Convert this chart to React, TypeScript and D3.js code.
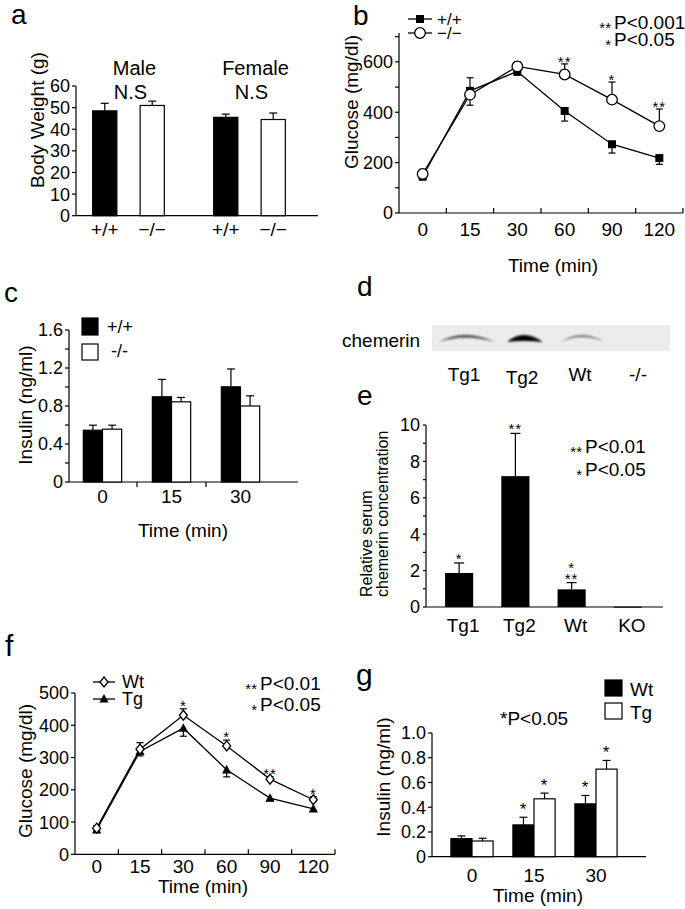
import React from 'react';
import * as d3 from 'd3';

const FONT = "'Liberation Sans', Arial, Helvetica, sans-serif";

// ---------- Panel a: body weight ----------
const aGroups = ['Male', 'Female'];
const aGenotypes = ['+/+', '−/−'];
const aWeightMean = [[48.5, 51.0], [45.5, 44.5]];
const aWeightErr = [[3.5, 2.0], [1.5, 3.0]];
const aGroupNote = ['N.S', 'N.S'];
const aYTicks = [0, 10, 20, 30, 40, 50, 60];

// ---------- Panel b: glucose tolerance (KO) ----------
const bTimes = ['0', '15', '30', '60', '90', '120'];
const bWtMean = [145, 485, 562, 405, 273, 218];
const bWtErr = [-14, 52, -15, -40, -35, -25];
const bKoMean = [155, 470, 582, 550, 450, 345];
const bKoErr = [18, -42, 18, 42, 70, 68];
const bStars = ['', '', '', '**', '*', '**'];
const bYTicks = [0, 100, 200, 300, 400, 500, 600, 700];
const bYLabels = [0, 200, 400, 600];

// ---------- Panel c: insulin (KO) ----------
const cTimes = ['0', '15', '30'];
const cSeries = ['+/+', '-/-'];
const cWtMean = [0.545, 0.897, 1.002];
const cWtErr = [0.053, 0.183, 0.188];
const cKoMean = [0.556, 0.844, 0.80];
const cKoErr = [0.042, 0.046, 0.107];
const cYTicks = [0, 0.2, 0.4, 0.6, 0.8, 1.0, 1.2, 1.4, 1.6];
const cYLabels = [0, 0.4, 0.8, 1.2, 1.6];

// ---------- Panel d: western blot ----------
const dLanes = ['Tg1', 'Tg2', 'Wt', '-/-'];
const dBandIntensity = [0.75, 1.0, 0.55, 0];
const dBandSpread = [56, 36, 44, 0];
const dBandThickness = [2.5, 6, 2, 0];

// ---------- Panel e: serum chemerin ----------
const eGroups = ['Tg1', 'Tg2', 'Wt', 'KO'];
const eMean = [1.87, 7.19, 0.97, 0.02];
const eErr = [0.55, 2.35, 0.37, 0];
const eStars = [['*'], ['**'], ['*', '**'], []];
const eYTicks = [0, 1, 2, 3, 4, 5, 6, 7, 8, 9, 10];
const eYLabels = [0, 2, 4, 6, 8, 10];

// ---------- Panel f: glucose tolerance (Tg) ----------
const fTimes = ['0', '15', '30', '60', '90', '120'];
const fWtMean = [81, 326, 431, 336, 233, 169];
const fWtErr = [8, 20, 20, 18, 8, 10];
const fTgMean = [76, 319, 391, 262, 174, 141];
const fTgErr = [-8, -14, -25, -22, -8, -8];
const fStars = ['', '', '*', '*', '**', '*'];
const fYTicks = [0, 100, 200, 300, 400, 500];

// ---------- Panel g: insulin (Tg) ----------
const gTimes = ['0', '15', '30'];
const gSeries = ['Wt', 'Tg'];
const gWtMean = [0.146, 0.257, 0.427];
const gWtErr = [0.022, 0.062, 0.068];
const gTgMean = [0.127, 0.468, 0.708];
const gTgErr = [0.022, 0.046, 0.07];
const gWtStars = ['', '*', '*'];
const gTgStars = ['', '*', '*'];
const gYTicks = [0, 0.2, 0.4, 0.6, 0.8, 1.0];

const SW = 1.2;

function T(props: any) {
  const { x, y, size = 18, anchor = 'start', children, rotate, ...rest } = props;
  return (
    <text
      x={rotate ? 0 : x}
      y={rotate ? 0 : y}
      transform={rotate ? `translate(${x},${y}) rotate(${rotate})` : undefined}
      fontFamily={FONT}
      fontSize={size}
      textAnchor={anchor}
      fill="#000"
      {...rest}
    >
      {children}
    </text>
  );
}

function YAxis({ scale, x, ticks, labels, fmt, top, size = 18, len = 4, dir = -1 }: any) {
  const [y0, y1] = scale.range();
  return (
    <g>
      <line x1={x} x2={x} y1={top ?? y1} y2={y0} stroke="#000" strokeWidth={SW} />
      {ticks.map((t: number) => (
        <line key={t} x1={x} x2={x + dir * len} y1={scale(t)} y2={scale(t)} stroke="#000" strokeWidth={SW} />
      ))}
      {labels.map((t: number) => (
        <T key={'l' + t} x={x - 6} y={scale(t)} dy="0.36em" anchor="end" size={size}>
          {fmt ? fmt(t) : String(t)}
        </T>
      ))}
    </g>
  );
}

function ErrBar({ x, y1, y2, cap = 4 }: any) {
  return (
    <g stroke="#000" strokeWidth={SW}>
      <line x1={x} x2={x} y1={y1} y2={y2} />
      <line x1={x - cap} x2={x + cap} y1={y2} y2={y2} />
    </g>
  );
}

function Stars({ x, y, text, size = 15 }: any) {
  return (
    <T x={x} y={y} size={size} anchor="middle" letterSpacing={1}>
      {text}
    </T>
  );
}

// ---------------- Panel a ----------------
function PanelA() {
  const y = d3.scaleLinear().domain([0, 60]).range([215.7, 86]);
  const xg = d3.scaleBand().domain(aGroups).range([68, 310]);
  const xi = d3.scaleBand().domain(aGenotypes).range([0, xg.bandwidth()]).paddingInner(0.49).paddingOuter(0.52);
  return (
    <g>
      <T x={11} y={24} size={28}>a</T>
      <T x={44} y={120} size={19} anchor="middle" rotate={-90}>Body Weight (g)</T>
      <YAxis scale={y} x={76} ticks={aYTicks} labels={aYTicks} />
      <line x1={76} x2={318} y1={y(0)} y2={y(0)} stroke="#000" strokeWidth={SW} />
      {aGroups.map((g, gi) => {
        const gx = xg(g)!;
        const cx = gx + xg.bandwidth() / 2;
        return (
          <g key={g}>
            <T x={cx + 6} y={75} size={20} anchor="middle">{g}</T>
            <T x={cx + 2} y={99} size={20} anchor="middle">{aGroupNote[gi]}</T>
            {aGenotypes.map((gt, k) => {
              const bx = gx + xi(gt)!;
              const v = aWeightMean[gi][k];
              const e = aWeightErr[gi][k];
              const bc = bx + xi.bandwidth() / 2;
              return (
                <g key={gt}>
                  <ErrBar x={bc} y1={y(v)} y2={y(v + e)} />
                  <rect x={bx} y={y(v)} width={xi.bandwidth()} height={y(0) - y(v)}
                    fill={k === 0 ? '#000' : '#fff'} stroke="#000" strokeWidth={SW} />
                  <T x={bc} y={236} size={19} anchor="middle">{gt}</T>
                </g>
              );
            })}
          </g>
        );
      })}
    </g>
  );
}

// markers
const Square = ({ x, y }: any) => <rect x={x - 4} y={y - 4} width={8} height={8} fill="#000" />;
const Circle = ({ x, y }: any) => <circle cx={x} cy={y} r={5.3} fill="#fff" stroke="#000" strokeWidth={1.3} />;
const Diamond = ({ x, y }: any) => (
  <path d={`M${x},${y - 5}L${x + 4},${y}L${x},${y + 5}L${x - 4},${y}Z`} fill="#fff" stroke="#000" strokeWidth={1.3} />
);
const Triangle = ({ x, y }: any) => (
  <path d={`M${x},${y - 5}L${x + 4.6},${y + 3.6}L${x - 4.6},${y + 3.6}Z`} fill="#000" />
);

// ---------------- Panel b ----------------
function PanelB() {
  const y = d3.scaleLinear().domain([0, 700]).range([213, 36.7]);
  const x = d3.scaleBand().domain(bTimes).range([399, 683]);
  const cx = (t: string) => x(t)! + x.bandwidth() / 2;
  const line = d3.line<number>().x((_, i) => cx(bTimes[i])).y((d) => y(d));
  return (
    <g>
      <T x={353} y={25} size={28}>b</T>
      <T x={358} y={102} size={19} anchor="middle" rotate={-90}>Glucose (mg/dl)</T>
      <YAxis scale={y} x={399} ticks={bYTicks} labels={bYLabels} top={33} />
      <line x1={399} x2={683} y1={y(0)} y2={y(0)} stroke="#000" strokeWidth={SW} />
      {bTimes.map((t) => (
        <g key={t}>
          <line x1={x(t)! + x.bandwidth()} x2={x(t)! + x.bandwidth()} y1={y(0)} y2={y(0) - 5} stroke="#000" strokeWidth={SW} />
          <T x={cx(t)} y={236} size={19} anchor="middle">{t}</T>
        </g>
      ))}
      <T x={553} y={272} size={19} anchor="middle">Time (min)</T>
      {bTimes.map((t, i) => (
        <g key={'e' + t}>
          <ErrBar x={cx(t)} y1={y(bWtMean[i])} y2={y(bWtMean[i] + bWtErr[i])} cap={3.5} />
          <ErrBar x={cx(t)} y1={y(bKoMean[i])} y2={y(bKoMean[i] + bKoErr[i])} cap={3.5} />
        </g>
      ))}
      <path d={line(bWtMean)!} fill="none" stroke="#000" strokeWidth={1.3} />
      <path d={line(bKoMean)!} fill="none" stroke="#000" strokeWidth={1.3} />
      {bTimes.map((t, i) => <Square key={'s' + t} x={cx(t)} y={y(bWtMean[i])} />)}
      {bTimes.map((t, i) => <Circle key={'c' + t} x={cx(t)} y={y(bKoMean[i])} />)}
      {bTimes.map((t, i) =>
        bStars[i] ? (
          <Stars key={'st' + t} x={cx(t)} y={y(bKoMean[i] + Math.abs(bKoErr[i])) + 3} text={bStars[i]} />
        ) : null
      )}
      {/* legend */}
      <line x1={408} x2={432} y1={19} y2={19} stroke="#000" strokeWidth={1.3} />
      <Square x={420} y={19} />
      <T x={437} y={25} size={17}>+/+</T>
      <line x1={408} x2={432} y1={33} y2={33} stroke="#000" strokeWidth={1.3} />
      <Circle x={420} y={33} />
      <T x={437} y={39} size={17}>−/−</T>
      <T x={611} y={33} size={15} anchor="end">**</T>
      <T x={614} y={29} size={19}>P&lt;0.001</T>
      <T x={611} y={50} size={15} anchor="end">*</T>
      <T x={614} y={46} size={19}>P&lt;0.05</T>
    </g>
  );
}

// ---------------- Panel c ----------------
function PanelC() {
  const y = d3.scaleLinear().domain([0, 1.6]).range([482, 330]);
  const x = d3.scaleBand().domain(cTimes).range([68, 275]);
  const xi = d3.scaleBand().domain(cSeries).range([0, x.bandwidth()]).paddingOuter(0.8).paddingInner(0);
  const fmt = (v: number) => (v === 0 ? '0' : v.toFixed(1));
  const means = [cWtMean, cKoMean];
  const errs = [cWtErr, cKoErr];
  return (
    <g>
      <T x={4} y={302} size={28}>c</T>
      <T x={32} y={405} size={19} anchor="middle" rotate={-90}>Insulin (ng/ml)</T>
      <YAxis scale={y} x={69} ticks={cYTicks} labels={cYLabels} fmt={fmt} />
      <line x1={69} x2={298} y1={y(0)} y2={y(0)} stroke="#000" strokeWidth={SW} />
      {cTimes.map((t, i) => (
        <g key={t}>
          {i > 0 && <line x1={x(t)!} x2={x(t)!} y1={y(0)} y2={y(0) + 5} stroke="#000" strokeWidth={SW} />}
          <T x={x(t)! + x.bandwidth() / 2} y={503} size={19} anchor="middle">{t}</T>
          {cSeries.map((s, k) => {
            const bx = x(t)! + xi(s)!;
            const v = means[k][i];
            return (
              <g key={s}>
                <ErrBar x={bx + xi.bandwidth() / 2} y1={y(v)} y2={y(v + errs[k][i])} cap={4} />
                <rect x={bx} y={y(v)} width={xi.bandwidth()} height={y(0) - y(v)}
                  fill={k === 0 ? '#000' : '#fff'} stroke="#000" strokeWidth={SW} />
              </g>
            );
          })}
        </g>
      ))}
      <T x={183} y={537} size={19} anchor="middle">Time (min)</T>
      <rect x={82} y={318} width={16} height={17} fill="#000" stroke="#000" strokeWidth={SW} />
      <T x={107} y={333} size={18}>{cSeries[0]}</T>
      <rect x={82} y={344} width={16} height={16} fill="#fff" stroke="#000" strokeWidth={SW} />
      <T x={111} y={357} size={18}>{cSeries[1]}</T>
    </g>
  );
}

// ---------------- Panel d ----------------
function PanelD() {
  const x = d3.scaleBand().domain(dLanes).range([438, 670]);
  const cy = 338;
  return (
    <g>
      <defs>
        <filter id="blotBlur" x="-20%" y="-50%" width="140%" height="200%">
          <feGaussianBlur stdDeviation="1.3" />
        </filter>
      </defs>
      <T x={357} y={296} size={28}>d</T>
      <T x={342} y={347} size={19}>chemerin</T>
      <rect x={432} y={325} width={238} height={26} fill="#ececec" />
      {dLanes.map((l, i) => {
        const c = x(l)! + x.bandwidth() / 2;
        const w = dBandSpread[i];
        const t = dBandThickness[i];
        const d = `M${c - w / 2},${cy + 4} Q${c - w * 0.05},${cy - 10} ${c + w / 2},${cy + 4} Q${c - w * 0.05},${cy - 10 + 2 * t} ${c - w / 2},${cy + 4}Z`;
        return (
          <g key={l}>
            {w > 0 && <path d={d} fill="#000" opacity={dBandIntensity[i]} filter="url(#blotBlur)" />}
            <T x={c - 3} y={i === 1 ? 384 : 381} size={19} anchor="middle">{l}</T>
          </g>
        );
      })}
    </g>
  );
}

// ---------------- Panel e ----------------
function PanelE() {
  const y = d3.scaleLinear().domain([0, 10]).range([607, 425]);
  const x = d3.scaleBand().domain(eGroups).range([431, 656]).paddingInner(0.5).paddingOuter(0.25);
  return (
    <g>
      <T x={357} y={405} size={28}>e</T>
      <T x={372} y={597} size={16} rotate={-90}>Relative serum</T>
      <T x={388} y={597} size={16} rotate={-90}>chemerin concentration</T>
      <YAxis scale={y} x={426} ticks={eYTicks} labels={eYLabels} len={3} />
      <line x1={426} x2={663} y1={y(0)} y2={y(0)} stroke="#000" strokeWidth={SW} />
      {eGroups.map((g, i) => {
        const bx = x(g)!;
        const c = bx + x.bandwidth() / 2;
        const top = y(eMean[i] + eErr[i]);
        const n = eStars[i].length;
        return (
          <g key={g}>
            {eErr[i] > 0 && <ErrBar x={c} y1={y(eMean[i])} y2={top} cap={5} />}
            <rect x={bx} y={y(eMean[i])} width={x.bandwidth()} height={Math.max(1, y(0) - y(eMean[i]))} fill="#000" />
            {n > 0 && (
              <text x={c} y={top + 1 - (n - 1) * 11} fontFamily={FONT} fontSize={15} textAnchor="middle" letterSpacing={1}>
                {eStars[i].map((s, k) => (
                  <tspan key={k} x={c} dy={k === 0 ? 0 : 11}>{s}</tspan>
                ))}
              </text>
            )}
            <T x={c + 4} y={632} size={19} anchor="middle">{g}</T>
          </g>
        );
      })}
      <T x={582} y={457} size={15} anchor="end">**</T>
      <T x={585} y={453} size={19}>P&lt;0.01</T>
      <T x={582} y={480} size={15} anchor="end">*</T>
      <T x={585} y={476} size={19}>P&lt;0.05</T>
    </g>
  );
}

// ---------------- Panel f ----------------
function PanelF() {
  const y = d3.scaleLinear().domain([0, 500]).range([854.3, 693]);
  const x = d3.scaleBand().domain(fTimes).range([75, 335]);
  const cx = (t: string) => x(t)! + x.bandwidth() / 2;
  const line = d3.line<number>().x((_, i) => cx(fTimes[i])).y((d) => y(d));
  return (
    <g>
      <T x={5} y={656} size={30}>f</T>
      <T x={32} y={771} size={19} anchor="middle" rotate={-90}>Glucose (mg/dl)</T>
      <YAxis scale={y} x={75} ticks={fYTicks} labels={fYTicks} />
      <line x1={75} x2={335} y1={y(0)} y2={y(0)} stroke="#000" strokeWidth={SW} />
      {fTimes.map((t) => (
        <g key={t}>
          <line x1={x(t)! + x.bandwidth()} x2={x(t)! + x.bandwidth()} y1={y(0)} y2={y(0) - 5} stroke="#000" strokeWidth={SW} />
          <T x={cx(t)} y={873} size={19} anchor="middle">{t}</T>
        </g>
      ))}
      <T x={203} y={893} size={19} anchor="middle">Time (min)</T>
      {fTimes.map((t, i) => (
        <g key={'e' + t}>
          <ErrBar x={cx(t)} y1={y(fWtMean[i])} y2={y(fWtMean[i] + fWtErr[i])} cap={3.5} />
          <ErrBar x={cx(t)} y1={y(fTgMean[i])} y2={y(fTgMean[i] + fTgErr[i])} cap={3.5} />
        </g>
      ))}
      <path d={line(fWtMean)!} fill="none" stroke="#000" strokeWidth={1.3} />
      <path d={line(fTgMean)!} fill="none" stroke="#000" strokeWidth={1.3} />
      {fTimes.map((t, i) => <Triangle key={'t' + t} x={cx(t)} y={y(fTgMean[i])} />)}
      {fTimes.map((t, i) => <Diamond key={'d' + t} x={cx(t)} y={y(fWtMean[i])} />)}
      {fTimes.map((t, i) =>
        fStars[i] ? <Stars key={'s' + t} x={cx(t)} y={y(fWtMean[i] + fWtErr[i]) + 2} text={fStars[i]} /> : null
      )}
      <line x1={93} x2={115} y1={682} y2={682} stroke="#000" strokeWidth={1.3} />
      <Diamond x={104} y={682} />
      <T x={122} y={688} size={18}>Wt</T>
      <line x1={93} x2={115} y1={699} y2={699} stroke="#000" strokeWidth={1.3} />
      <Triangle x={104} y={699} />
      <T x={122} y={705} size={18}>Tg</T>
      <T x={257} y={694} size={15} anchor="end">**</T>
      <T x={260} y={690} size={19}>P&lt;0.01</T>
      <T x={257} y={715} size={15} anchor="end">*</T>
      <T x={260} y={711} size={19}>P&lt;0.05</T>
    </g>
  );
}

// ---------------- Panel g ----------------
function PanelG() {
  const y = d3.scaleLinear().domain([0, 1]).range([856.7, 733]);
  const x = d3.scaleBand().domain(gTimes).range([441, 627]);
  const xi = d3.scaleBand().domain(gSeries).range([0, x.bandwidth()]).paddingOuter(0.47).paddingInner(0);
  const fmt = (v: number) => (v === 0 ? '0' : v.toFixed(1));
  const means = [gWtMean, gTgMean];
  const errs = [gWtErr, gTgErr];
  const stars = [gWtStars, gTgStars];
  return (
    <g>
      <T x={356} y={685} size={30}>g</T>
      <T x={390} y={777} size={19} anchor="middle" rotate={-90}>Insulin (ng/ml)</T>
      <YAxis scale={y} x={432} ticks={gYTicks} labels={gYTicks} fmt={fmt} />
      <line x1={432} x2={646} y1={y(0)} y2={y(0)} stroke="#000" strokeWidth={SW} />
      {gTimes.map((t, i) => (
        <g key={t}>
          <T x={x(t)! + x.bandwidth() / 2} y={882} size={19} anchor="middle">{t}</T>
          {gSeries.map((s, k) => {
            const bx = x(t)! + xi(s)!;
            const v = means[k][i];
            const c = bx + xi.bandwidth() / 2;
            const top = y(v + errs[k][i]);
            return (
              <g key={s}>
                <ErrBar x={c} y1={y(v)} y2={top} cap={4} />
                <rect x={bx} y={y(v)} width={xi.bandwidth()} height={y(0) - y(v)}
                  fill={k === 0 ? '#000' : '#fff'} stroke="#000" strokeWidth={SW} />
                {stars[k][i] && <Stars x={c} y={top - 2} text={stars[k][i]} size={17} />}
              </g>
            );
          })}
        </g>
      ))}
      <T x={538} y={902} size={19} anchor="middle">Time (min)</T>
      <rect x={605} y={680} width={17} height={16} fill="#000" stroke="#000" strokeWidth={SW} />
      <T x={630} y={696} size={19}>{gSeries[0]}</T>
      <rect x={605} y={703} width={17} height={16} fill="#fff" stroke="#000" strokeWidth={SW} />
      <T x={630} y={719} size={19}>{gSeries[1]}</T>
      <T x={500} y={725} size={19}>*P&lt;0.05</T>
    </g>
  );
}

export default function App() {
  return (
    <svg width={685} height={909} viewBox="0 0 685 909"
      style={{ position: 'absolute', left: 0, top: 0, background: '#fff' }}>
      <rect x={0} y={0} width={685} height={909} fill="#fff" />
      <PanelA />
      <PanelB />
      <PanelC />
      <PanelD />
      <PanelE />
      <PanelF />
      <PanelG />
    </svg>
  );
}
